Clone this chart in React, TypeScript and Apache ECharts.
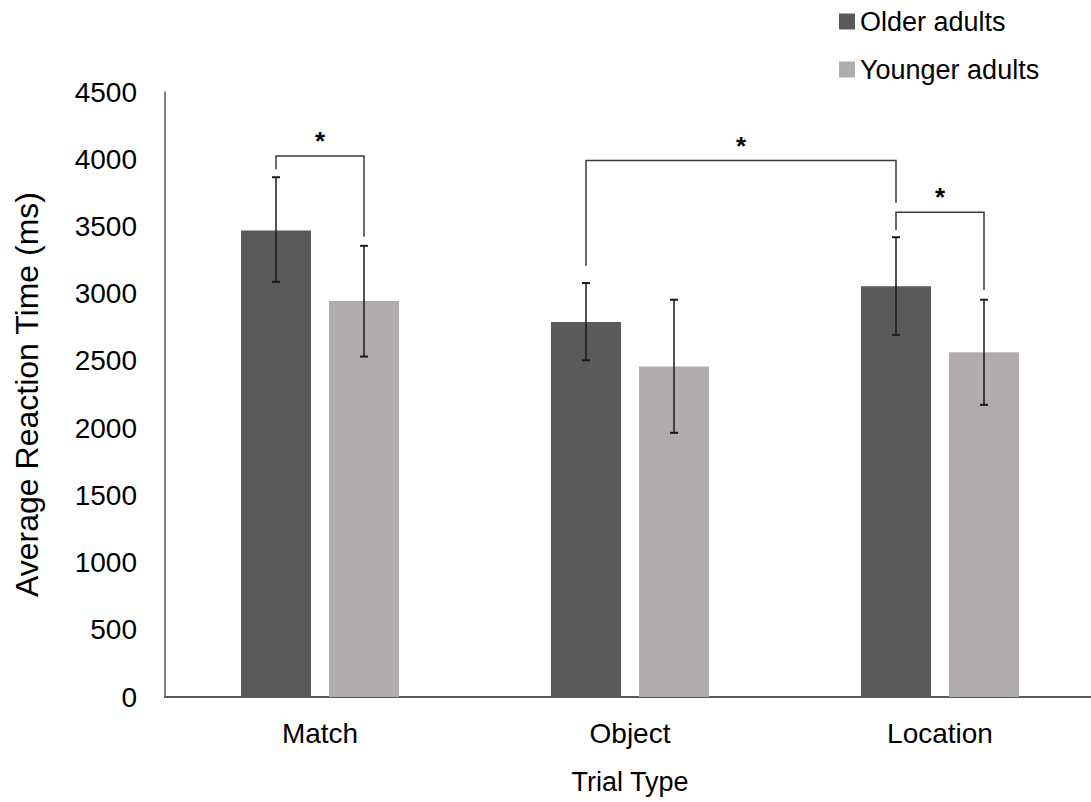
import React, { useEffect, useRef } from "react";
import * as echarts from "echarts";

const categories = ["Match", "Object", "Location"];
const seriesNames = ["Older adults", "Younger adults"];
const olderMeans = [3470, 2790, 3055];
const youngerMeans = [2945, 2458, 2564];
const olderErrLow = [3088, 2504, 2693];
const olderErrHigh = [3866, 3079, 3420];
const youngerErrLow = [2532, 1965, 2173];
const youngerErrHigh = [3356, 2955, 2955];
const yTicks = { min: 0, max: 4500, interval: 500 };

// brackets: [catA, groupA, catB, groupB, topValue, leftEndValue, rightEndValue]
const bracketData = [
  [0, 0, 0, 1, 4024, 3925, 3424],
  [1, 0, 2, 0, 3990, 3208, 3677],
  [2, 0, 2, 1, 3605, 3474, 3027],
];
const bracketLabel = "*";

const OLDER = "#5a5a5a";
const YOUNGER = "#afacab";
const BAR_W = 70;
const GAP_PX = 18;
const HALF = (BAR_W + GAP_PX) / 2;

export default function App() {
  const ref = useRef<HTMLDivElement>(null);
  useEffect(() => {
    if (!ref.current) return;
    const chart = echarts.init(ref.current, undefined, { renderer: "svg" });
    const font = "'Liberation Sans', Arial, sans-serif";
    const errData: number[][] = [];
    categories.forEach((_, i) => {
      errData.push([i, olderErrLow[i], olderErrHigh[i], 0]);
      errData.push([i, youngerErrLow[i], youngerErrHigh[i], 1]);
    });
    const off = (g: number) => (g === 0 ? -HALF : HALF);
    chart.setOption({
      animation: false,
      textStyle: { fontFamily: font },
      legend: {
        data: seriesNames,
        orient: "vertical",
        left: 839,
        top: 8,
        padding: 0,
        itemWidth: 16,
        itemHeight: 16,
        itemGap: 21,
        icon: "rect",
        textStyle: { fontSize: 27, color: "#000", fontFamily: font, lineHeight: 26 },
      },
      grid: {
        left: 165,
        top: 92,
        width: 930,
        bottom: 105,
        containLabel: false,
        outerBoundsMode: "none",
      },
      xAxis: {
        type: "category",
        data: categories,
        name: "Trial Type",
        nameLocation: "middle",
        nameGap: 71,
        nameTextStyle: { fontSize: 27, color: "#000", fontFamily: font },
        axisLine: { lineStyle: { color: "#595959", width: 2 } },
        axisTick: { show: false },
        axisLabel: { fontSize: 28, color: "#000", margin: 22, fontFamily: font },
      },
      yAxis: {
        type: "value",
        min: yTicks.min,
        max: yTicks.max,
        interval: yTicks.interval,
        name: "Average Reaction Time (ms)",
        nameLocation: "middle",
        nameRotate: 90,
        nameGap: 122,
        nameTextStyle: { fontSize: 32, color: "#000", fontFamily: font },
        axisLine: { show: true, lineStyle: { color: "#595959", width: 1.5 } },
        axisTick: { show: false },
        splitLine: { show: false },
        axisLabel: {
          fontSize: 28,
          color: "#000",
          margin: 28,
          fontFamily: font,
          formatter: (v: number) => String(v),
        },
      },
      series: [
        {
          name: seriesNames[0],
          type: "bar",
          data: olderMeans,
          barWidth: BAR_W,
          barGap: (GAP_PX / BAR_W) * 100 + "%",
          itemStyle: { color: OLDER },
        },
        {
          name: seriesNames[1],
          type: "bar",
          data: youngerMeans,
          barWidth: BAR_W,
          itemStyle: { color: YOUNGER },
        },
        {
          type: "custom",
          name: "err",
          data: errData,
          encode: { x: 0, y: [1, 2] },
          clip: false,
          z: 5,
          renderItem: (params: any, api: any) => {
            const g = api.value(3);
            const lo = api.coord([api.value(0), api.value(1)]);
            const hi = api.coord([api.value(0), api.value(2)]);
            const x = lo[0] + off(g);
            const cap = 4;
            const st = { stroke: "#1a1a1a", lineWidth: 1.5 };
            return {
              type: "group",
              children: [
                { type: "line", shape: { x1: x, y1: lo[1], x2: x, y2: hi[1] }, style: st },
                { type: "line", shape: { x1: x - cap, y1: lo[1], x2: x + cap, y2: lo[1] }, style: { ...st, lineWidth: 2 } },
                { type: "line", shape: { x1: x - cap, y1: hi[1], x2: x + cap, y2: hi[1] }, style: { ...st, lineWidth: 2 } },
              ],
            };
          },
        },
        {
          type: "custom",
          name: "brackets",
          data: bracketData,
          encode: { x: 0, y: 4 },
          clip: false,
          z: 5,
          renderItem: (params: any, api: any) => {
            const xa = api.coord([api.value(0), 0])[0] + off(api.value(1));
            const xb = api.coord([api.value(2), 0])[0] + off(api.value(3));
            const yt = api.coord([0, api.value(4)])[1];
            const yl = api.coord([0, api.value(5)])[1];
            const yr = api.coord([0, api.value(6)])[1];
            return {
              type: "group",
              children: [
                {
                  type: "polyline",
                  shape: { points: [[xa, yl], [xa, yt], [xb, yt], [xb, yr]] },
                  style: { stroke: "#3a3a3a", lineWidth: 1.5, fill: "none" },
                },
                {
                  type: "text",
                  x: (xa + xb) / 2,
                  y: yt - 15,
                  style: {
                    text: bracketLabel,
                    fontSize: 26,
                    fontWeight: "bold",
                    fontFamily: font,
                    fill: "#000",
                    align: "center",
                    verticalAlign: "middle",
                  },
                },
              ],
            };
          },
        },
      ],
    });
    return () => chart.dispose();
  }, []);
  return (
    <div
      ref={ref}
      style={{ position: "absolute", left: 0, top: 0, width: 1091, height: 802, background: "#fff" }}
    />
  );
}
